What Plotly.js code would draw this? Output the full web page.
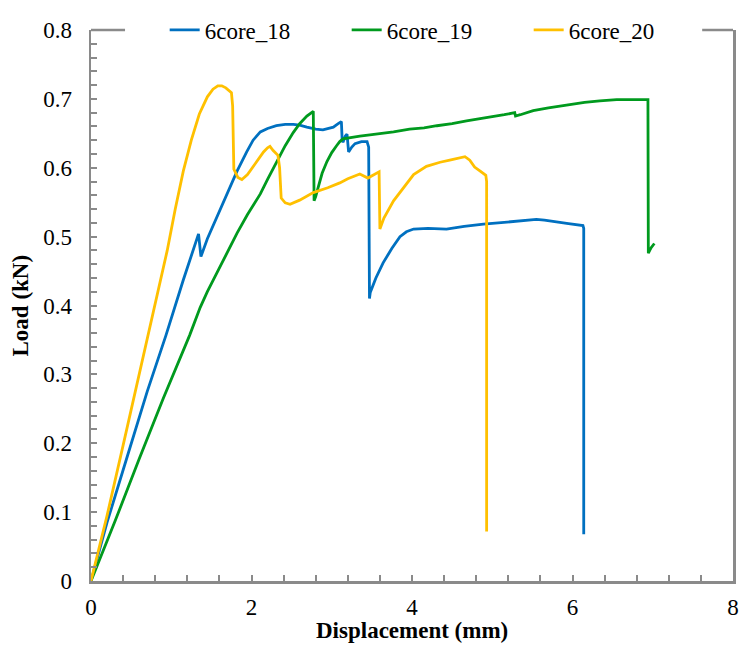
<!DOCTYPE html>
<html>
<head>
<meta charset="utf-8">
<script src="https://cdn.plot.ly/plotly-3.0.1.min.js"></script>
<style>html,body{margin:0;padding:0;background:#fff;}#chart{width:741px;height:646px;}</style>
</head>
<body>
<div id="chart"></div>
<script>
// 6core_18 (blue)
const x18 = [0,0.2,0.45,0.7,0.935,1.15,1.34,1.37,1.45,1.57,1.7,1.82,1.94,2.02,2.11,2.2,2.31,2.42,2.52,2.6,2.69,2.8,2.89,2.96,3.02,3.08,3.12,3.13,3.14,3.17,3.19,3.2,3.21,3.25,3.29,3.37,3.44,3.46,3.47,3.48,3.55,3.64,3.75,3.85,3.93,4.02,4.2,4.43,4.65,4.89,5.1,5.3,5.45,5.55,5.65,5.8,5.95,6.13,6.14,6.14];
const y18 = [0,0.085,0.18,0.275,0.357,0.437,0.504,0.471,0.497,0.528,0.563,0.595,0.623,0.64,0.652,0.657,0.661,0.663,0.663,0.662,0.659,0.656,0.655,0.657,0.659,0.664,0.667,0.64,0.637,0.646,0.649,0.636,0.623,0.63,0.635,0.638,0.638,0.63,0.41,0.419,0.44,0.462,0.483,0.5,0.507,0.511,0.512,0.511,0.515,0.518,0.52,0.522,0.524,0.525,0.524,0.521,0.519,0.516,0.512,0.068];
// 6core_19 (green)
const x19 = [0,0.3,0.6,0.9,1.23,1.32,1.34,1.36,1.45,1.57,1.7,1.82,1.95,2.03,2.11,2.2,2.31,2.42,2.52,2.6,2.69,2.77,2.78,2.8,2.83,2.88,2.94,3.0,3.06,3.1,3.14,3.23,3.35,3.5,3.64,3.77,3.97,4.15,4.31,4.5,4.68,4.85,4.97,5.15,5.28,5.29,5.35,5.51,5.7,5.93,6.15,6.34,6.55,6.76,6.94,6.945,6.98,7.02];
const y19 = [0,0.087,0.177,0.265,0.357,0.385,0.393,0.397,0.42,0.448,0.478,0.505,0.532,0.547,0.562,0.583,0.608,0.632,0.651,0.664,0.675,0.682,0.552,0.558,0.571,0.592,0.609,0.622,0.632,0.638,0.642,0.644,0.646,0.648,0.65,0.652,0.656,0.658,0.661,0.664,0.668,0.671,0.674,0.677,0.68,0.675,0.677,0.683,0.687,0.691,0.695,0.697,0.699,0.699,0.699,0.476,0.484,0.49];
// 6core_20 (yellow)
const x20 = [0,0.2,0.4,0.6,0.8,0.95,1.05,1.15,1.25,1.35,1.45,1.52,1.58,1.63,1.68,1.72,1.75,1.765,1.775,1.78,1.83,1.88,1.95,2.05,2.15,2.2,2.23,2.27,2.33,2.35,2.37,2.42,2.48,2.6,2.77,2.95,3.1,3.2,3.35,3.45,3.52,3.59,3.6,3.65,3.77,3.9,4.02,4.18,4.35,4.47,4.6,4.66,4.72,4.78,4.85,4.92,4.93,4.93];
const y20 = [0,0.095,0.197,0.3,0.4,0.48,0.54,0.595,0.64,0.678,0.703,0.714,0.719,0.719,0.716,0.712,0.709,0.69,0.62,0.598,0.586,0.583,0.59,0.607,0.623,0.629,0.631,0.625,0.618,0.6,0.556,0.549,0.547,0.553,0.564,0.571,0.578,0.584,0.591,0.585,0.589,0.594,0.511,0.527,0.552,0.572,0.59,0.602,0.608,0.611,0.615,0.616,0.611,0.601,0.595,0.589,0.58,0.072];

const seriesNames = ['6core_18','6core_19','6core_20'];
const colors = ['#0070C0','#009A1E','#FFC000'];
const xTicks = [0,2,4,6,8];
const yTicks = [0,0.1,0.2,0.3,0.4,0.5,0.6,0.7,0.8];
const xTitle = 'Displacement (mm)';
const yTitle = 'Load (kN)';

const xs=[x18,x19,x20], ys=[y18,y19,y20];
const data = seriesNames.map((n,i)=>({
  type:'scatter', mode:'lines', name:n, x:xs[i], y:ys[i],
  line:{color:colors[i], width:2.8}
}));

const fam = 'Liberation Serif';
const f = (s)=>({family:fam, size:s, color:'#000'});
const axisGray = '#8a8a8a';
const layout = {
  width:741, height:646,
  margin:{l:91, r:8, t:19, b:65},
  paper_bgcolor:'#fff', plot_bgcolor:'#fff',
  font:f(23),
  showlegend:true,
  legend:{orientation:'h', x:0.54, xanchor:'center', y:1, yanchor:'middle',
    bgcolor:'rgba(0,0,0,0)', font:f(23), entrywidth:137, entrywidthmode:'pixels', tracegroupgap:0},
  xaxis:{range:[0,8], tickvals:xTicks, ticktext:xTicks.map(String), showgrid:false, zeroline:false,
    showline:true, linecolor:axisGray, linewidth:2.5, ticks:'inside', ticklen:6, tickwidth:2, tickcolor:axisGray,
    minor:{dtick:0.4, ticks:'inside', ticklen:6, tickwidth:2, tickcolor:axisGray, showgrid:false},
    tickfont:f(23), ticklabelstandoff:4},
  yaxis:{range:[0,0.8], tickvals:yTicks, ticktext:yTicks.map(v=>String(v)), showgrid:false, zeroline:false,
    showline:true, linecolor:axisGray, linewidth:2.5, mirror:true, ticks:'inside', ticklen:6, tickwidth:2, tickcolor:axisGray,
    minor:{dtick:0.02, ticks:'inside', ticklen:6, tickwidth:2, tickcolor:axisGray, showgrid:false},
    tickfont:f(23), ticklabelstandoff:12},
  annotations:[
    {text:'<b>'+xTitle+'</b>', xref:'paper', yref:'paper', x:0.5, y:0, xanchor:'center', yanchor:'middle', yshift:-49, showarrow:false, font:f(23)},
    {text:'<b>'+yTitle+'</b>', xref:'paper', yref:'paper', x:0, y:0.5, xanchor:'center', yanchor:'middle', xshift:-71, textangle:-90, showarrow:false, font:f(23)}
  ],
  shapes:[
    {type:'line', xref:'paper', yref:'paper', x0:0, x1:0.053, y0:1, y1:1, line:{color:axisGray, width:2.5}},
    {type:'line', xref:'paper', yref:'paper', x0:0.952, x1:1, y0:1, y1:1, line:{color:axisGray, width:2.5}}
  ]
};
Plotly.newPlot('chart', data, layout, {displayModeBar:false, staticPlot:true});
</script>
</body>
</html>
